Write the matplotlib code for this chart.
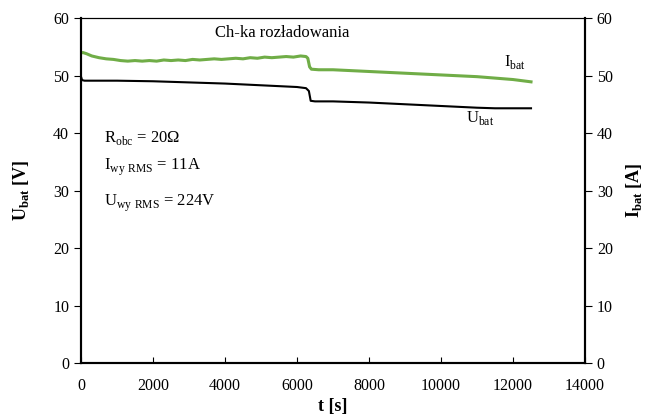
import matplotlib.pyplot as plt

plt.rcParams['font.family'] = ['Liberation Serif', 'DejaVu Serif']
plt.rcParams['mathtext.fontset'] = 'custom'
plt.rcParams['mathtext.rm'] = 'Liberation Serif'
plt.rcParams['mathtext.bf'] = 'Liberation Serif:bold'

# battery current (green)
t_i = [0, 50, 150, 300, 500, 700, 900, 1100, 1300, 1500, 1700, 1900, 2100, 2300, 2500,
       2700, 2900, 3100, 3300, 3500, 3700, 3900, 4100, 4300, 4500, 4700, 4900, 5100,
       5300, 5500, 5700, 5900, 6100, 6250, 6300, 6350, 6400, 6600, 7000, 8000, 9000,
       10000, 11000, 12000, 12500]
i_bat = [53.9, 54.0, 53.8, 53.4, 53.1, 52.9, 52.8, 52.6, 52.5, 52.6, 52.5, 52.6, 52.5,
         52.7, 52.6, 52.7, 52.6, 52.8, 52.7, 52.8, 52.9, 52.8, 52.9, 53.0, 52.9, 53.1,
         53.0, 53.2, 53.1, 53.2, 53.3, 53.2, 53.4, 53.3, 53.0, 51.5, 51.1, 51.0, 51.0,
         50.7, 50.4, 50.1, 49.8, 49.3, 48.9]

# battery voltage (black)
t_u = [0, 30, 100, 1000, 2000, 3000, 4000, 5000, 6000, 6250, 6330, 6380, 6500, 7000,
       8000, 9000, 10000, 11000, 11500, 12500]
u_bat = [49.8, 49.2, 49.1, 49.1, 49.0, 48.8, 48.6, 48.3, 48.0, 47.8, 47.3, 45.6, 45.5,
         45.5, 45.3, 45.0, 44.7, 44.4, 44.3, 44.3]

fig = plt.figure(figsize=(6.48, 4.17), dpi=100)
ax = fig.add_axes([0.125, 0.1295, 0.7778, 0.8273])
ax2 = ax.twinx()

ax.plot(t_u, u_bat, color='black', lw=1.5)
ax2.plot(t_i, i_bat, color='#70AD47', lw=2.2)

for a in (ax, ax2):
    a.set_xlim(0, 14000)
    a.set_ylim(0, 60)
    a.set_yticks(range(0, 61, 10))
    for s in ('left', 'right', 'bottom'):
        a.spines[s].set_linewidth(1.5)
    a.spines['top'].set_linewidth(0.8)
    a.tick_params(axis='y', direction='out', length=5, labelsize=11.5)
ax.set_xticks(range(0, 14001, 2000))
ax.tick_params(axis='x', direction='in', length=4, labelsize=11.5, pad=10.5)

ax.set_xlabel('t [s]', fontsize=13, fontweight='bold', labelpad=3)
ax.set_ylabel(r'U$_{\mathbf{bat}}$ [V]', fontsize=13, fontweight='bold', labelpad=16)
ax2.set_ylabel(r'I$_{\mathbf{bat}}$ [A]', fontsize=13, fontweight='bold', labelpad=8)

ax.text(5600, 57.4, 'Ch-ka rozładowania', fontsize=12, ha='center', va='center')
ax.text(12050, 52.3, r'I$_{\mathrm{bat}}$', fontsize=12, ha='center', va='center')
ax.text(11100, 42.6, r'U$_{\mathrm{bat}}$', fontsize=12, ha='center', va='center')
ax.text(650, 39.1, r'R$_{\mathrm{obc}}$ = 20Ω', fontsize=12, va='center')
ax.text(650, 34.0, r'I$_{\mathrm{wy\ RMS}}$ = 11A', fontsize=12, va='center')
ax.text(650, 27.8, r'U$_{\mathrm{wy\ RMS}}$ = 224V', fontsize=12, va='center')

fig.savefig('out.png', dpi=100)
